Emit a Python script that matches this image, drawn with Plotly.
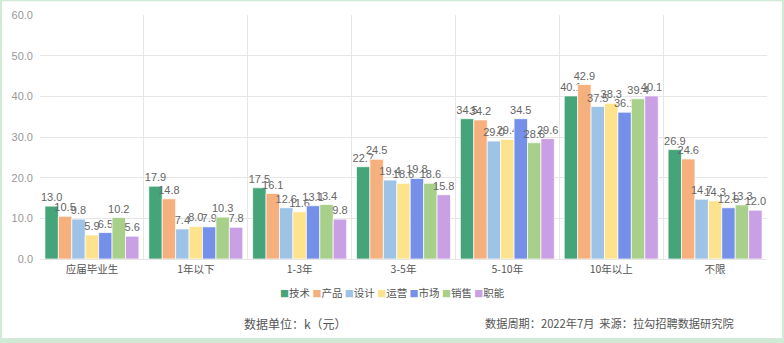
import plotly.graph_objects as go

categories = ["应届毕业生", "1年以下", "1-3年", "3-5年", "5-10年", "10年以上", "不限"]
series_names = ["技术", "产品", "设计", "运营", "市场", "销售", "职能"]
v_tech = [13.0, 17.9, 17.5, 22.7, 34.5, 40.1, 26.9]
v_prod = [10.5, 14.8, 16.1, 24.5, 34.2, 42.9, 24.6]
v_design = [9.8, 7.4, 12.6, 19.4, 29.0, 37.5, 14.7]
v_ops = [5.9, 8.0, 11.6, 18.6, 29.4, 38.3, 14.3]
v_mkt = [6.5, 7.9, 13.1, 19.8, 34.5, 36.1, 12.6]
v_sales = [10.2, 10.3, 13.4, 18.6, 28.6, 39.4, 13.3]
v_func = [5.6, 7.8, 9.8, 15.8, 29.6, 40.1, 12.0]
series_values = [v_tech, v_prod, v_design, v_ops, v_mkt, v_sales, v_func]
colors = ["#45a47a", "#f5b07d", "#9dc3e6", "#fde38e", "#7590e8", "#a8d08a", "#c9a0e3"]
y_ticks = [0, 10, 20, 30, 40, 50, 60]

W, H = 784, 343
L, R, T, B = 40, 767, 9, 259
pw, ph = R - L, B - T

def px(x):
    return (x - L) / pw

def py(y):
    return (B - y) / ph

fig = go.Figure()
for name, vals, c in zip(series_names, series_values, colors):
    fig.add_trace(go.Bar(
        x=categories, y=vals, name=name,
        marker=dict(color=c, line=dict(color="rgba(255,255,255,0.7)", width=1)),
        text=[f"{v:.1f}" for v in vals], textposition="outside",
        textfont=dict(family="Liberation Sans, Arial, sans-serif", size=11, color="#666666"),
        constraintext="none", cliponaxis=False, showlegend=False,
    ))

legend_html = " ".join(
    f"<span style='color:{c};font-size:9px'>■</span>{n}" for n, c in zip(series_names, colors)
)

fig.update_layout(
    width=W, height=H,
    margin=dict(l=L, r=W - R, t=T, b=H - B, pad=0),
    paper_bgcolor="#d0ead5", plot_bgcolor="white",
    barmode="group", bargap=0.095, bargroupgap=0,
    font=dict(family="Noto Sans CJK SC, sans-serif", color="#555555"),
    xaxis=dict(type="category", tickson="boundaries", showgrid=True, gridcolor="#e6e6e6",
               gridwidth=1, ticks="", showline=True, linecolor="#e6e6e6",
               tickfont=dict(size=10.5, color="#555555"), fixedrange=True),
    yaxis=dict(range=[0, 60], tickvals=y_ticks, tickformat=".1f", showgrid=True,
               gridcolor="#e6e6e6", gridwidth=1, zeroline=False, ticks="",
               showline=False, ticklabelstandoff=6,
               tickfont=dict(family="Liberation Sans, Arial, sans-serif", size=11, color="#999999")),
    shapes=[dict(type="rect", xref="paper", yref="paper",
                 x0=px(2), x1=px(782), y0=py(340), y1=py(-5),
                 fillcolor="white", line=dict(width=0), layer="below")],
    annotations=[
        dict(text=legend_html, xref="paper", yref="paper", x=px(278), y=py(293),
             xanchor="left", yanchor="middle", showarrow=False,
             font=dict(size=10.5, color="#555555")),
        dict(text="数据单位：k（元）", xref="paper", yref="paper", x=px(242), y=py(325),
             xanchor="left", yanchor="middle", showarrow=False,
             font=dict(size=12, color="#555555")),
        dict(text="数据周期：2022年7月  来源：拉勾招聘数据研究院", xref="paper", yref="paper",
             x=px(483), y=py(325), xanchor="left", yanchor="middle", showarrow=False,
             font=dict(size=11.2, color="#555555")),
    ],
)

fig.write_html("out.html")
